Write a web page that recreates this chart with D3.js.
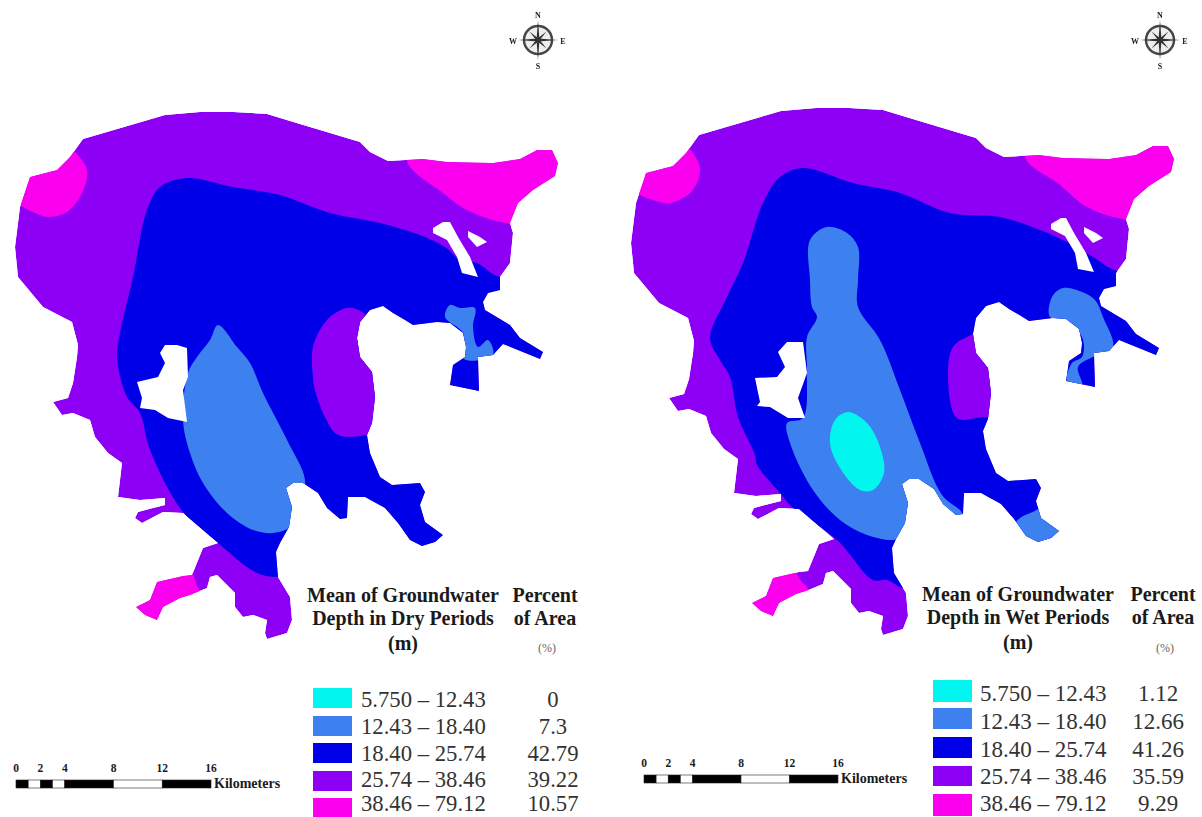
<!DOCTYPE html>
<html>
<head>
<meta charset="utf-8">
<script src="https://d3js.org/d3.v7.min.js"></script>
<style>
  html, body { margin: 0; padding: 0; background: #fff; overflow: hidden; }
  svg { display: block; }
  text { font-family: "Liberation Serif", serif; fill: #1a1a1a; }
</style>
</head>
<body>
<div id="chart"></div>
<script>
// legend data
const classLabels = ["5.750 – 12.43", "12.43 – 18.40", "18.40 – 25.74", "25.74 – 38.46", "38.46 – 79.12"];
const classColors = ["#00f6ee", "#3d80ef", "#0000e8", "#8e00f5", "#fb00ef"];
const dryPercent = ["0", "7.3", "42.79", "39.22", "10.57"];
const wetPercent = ["1.12", "12.66", "41.26", "35.59", "9.29"];
const scaleTicks = [0, 2, 4, 8, 12, 16];
const scaleBreaks = [0, 1, 2, 3, 4, 8, 12, 16];

// map geometry, digitised in map units (about 12.2 units to the km)
const studyArea = [[83,139],[165,115],[200,112],[233,112],[267,114],[300,124],[360,142],[370,152],[388,161],[423,159],[447,162],[493,163],[520,159],[537,150],[552,150],[558,163],[555,176],[533,190],[518,203],[510,223],[513,233],[510,263],[500,277],[500,290],[488,293],[483,302],[485,310],[510,325],[520,338],[543,352],[540,359],[503,344],[493,355],[478,357],[479,391],[450,385],[453,365],[465,357],[466,347],[463,333],[450,323],[437,322],[413,325],[405,320],[393,313],[383,306],[370,310],[360,322],[357,338],[360,357],[372,372],[375,397],[372,423],[367,435],[370,453],[380,477],[392,485],[420,483],[425,492],[420,505],[425,522],[443,535],[435,542],[422,546],[410,540],[398,523],[385,508],[365,497],[348,497],[347,518],[340,519],[327,508],[318,493],[303,483],[293,483],[286,488],[292,507],[289,527],[280,543],[276,552],[278,577],[290,597],[292,620],[287,633],[267,639],[265,633],[267,620],[253,615],[243,617],[235,607],[235,593],[217,575],[210,577],[207,588],[190,595],[180,598],[163,607],[157,620],[145,615],[136,607],[150,600],[157,582],[183,576],[192,575],[203,548],[218,543],[183,513],[163,512],[142,523],[135,518],[138,512],[153,508],[165,505],[165,498],[140,500],[118,497],[122,463],[108,453],[95,437],[90,420],[73,413],[62,415],[53,402],[68,398],[73,383],[77,357],[78,345],[72,322],[43,307],[18,277],[15,247],[20,207],[30,177],[57,170],[70,157]];

const dryNwHigh = [[75,152],[87,170],[82,193],[67,212],[48,217],[33,212],[18,203],[5,180],[30,150],[60,140]];
const dryNeHigh = [[407,161],[443,193],[467,210],[510,224],[580,225],[590,130],[420,130]];
const drySwHigh = [[192,573],[196,584],[200,594],[170,628],[120,628],[120,560],[170,560]];
const dryMid = [[187,178],[160,187],[147,210],[133,277],[120,333],[117,357],[127,397],[140,413],[150,450],[183,512],[218,543],[257,573],[278,577],[300,573],[620,572],[620,277],[500,277],[477,263],[460,260],[445,247],[420,235],[380,223],[330,213],[280,195],[233,187]];
const dryLens = [[347,308],[327,320],[313,347],[313,377],[315,390],[325,417],[338,435],[367,435],[385,430],[388,365],[375,330],[362,312]];
const dryShallow = [[218,325],[210,340],[197,357],[188,373],[183,420],[190,453],[203,483],[227,513],[253,530],[273,533],[290,527],[300,510],[305,480],[287,440],[263,393],[250,363],[237,347]];
const dryShallowEast = [[450,305],[445,317],[463,333],[464,359],[493,355],[488,340],[478,347],[473,327],[475,308],[460,308]];
const dryHoles = [
  [[165,345],[160,353],[165,363],[158,377],[137,382],[142,398],[140,408],[155,410],[168,418],[187,422],[183,390],[188,377],[187,348],[177,345]],
  [[443,222],[433,228],[433,233],[447,240],[457,257],[462,273],[478,277],[470,257],[458,237],[450,222]],
  [[468,231],[468,237],[477,247],[487,242],[480,237]]
];

const wetNwHigh = [[74,153],[84,173],[76,195],[54,207],[37,204],[18,195],[5,175],[30,150],[60,140]];
const wetNeHigh = [[409,161],[444,189],[471,211],[512,224],[580,225],[590,130],[420,130]];
const wetSwHigh = [[179,575],[185,585],[192,594],[170,628],[120,628],[120,560],[165,560]];
const wetMid = [[187,172],[164,181],[147,207],[127,267],[111,301],[94,342],[104,364],[114,381],[122,421],[139,459],[141,469],[164,497],[177,512],[221,544],[257,584],[271,584],[287,592],[310,590],[620,590],[620,276],[504,276],[477,261],[451,246],[424,234],[384,221],[334,217],[284,197],[237,187]];
const wetLens = [[351,341],[337,351],[332,377],[341,422],[367,421],[390,420],[390,360],[372,335]];
const wetShallow = [[211,231],[194,244],[194,284],[196,311],[201,321],[191,341],[191,377],[187,422],[171,427],[174,447],[197,494],[224,524],[251,539],[277,544],[290,540],[300,530],[345,526],[346,517],[326,499],[304,447],[284,394],[264,344],[242,311],[242,284],[242,251],[231,237]];
const wetShallowEast = [[447,292],[436,301],[434,321],[454,326],[467,344],[466,361],[456,367],[451,386],[466,389],[462,371],[481,359],[497,351],[487,321],[479,304],[466,296]];
const wetShallowTip = [[404,522],[422,513],[432,500],[470,515],[470,570],[400,570],[394,535]];
const wetCore = [[232,416],[251,427],[264,451],[268,477],[257,494],[244,494],[224,472],[214,447],[219,424]];
const wetHoles = [
  [[171,346],[162,356],[169,371],[161,381],[139,382],[144,406],[141,410],[154,411],[172,422],[189,422],[182,402],[191,377],[187,346]],
  [[445,222],[435,228],[435,233],[449,240],[459,257],[462,273],[478,276],[470,257],[458,237],[450,222]],
  [[468,231],[468,237],[477,247],[487,242],[480,237]]
];

const width = 1202, height = 817;
const svg = d3.select("#chart").append("svg")
    .attr("width", width)
    .attr("height", height);

const blur = svg.append("filter").attr("id", "soft");
blur.append("feGaussianBlur").attr("stdDeviation", 0.45);

const panels = [
  { id: "dry", dx: 0, dy: 0,
    zones: [[4, dryNwHigh], [4, dryNeHigh], [4, drySwHigh], [2, dryMid], [3, dryLens], [1, dryShallow], [1, dryShallowEast]],
    holes: dryHoles,
    title: ["Mean of Groundwater", "Depth in Dry Periods", "(m)"], percent: dryPercent,
    titleX: 403, percentX: 545, rowY: [707, 734, 761, 787, 811],
    swatchTop: [688, 716, 743, 771, 798], swatchBottom: [708, 736, 763, 791, 817],
    swatchX: 313, labelX: 361, labelSize: 22.7, valueX: 553,
    bar: [16, 211], barY: 780, compass: [538, 40] },
  { id: "wet", dx: 616, dy: -4,
    zones: [[4, wetNwHigh], [4, wetNeHigh], [4, wetSwHigh], [2, wetMid], [3, wetLens], [1, wetShallow], [1, wetShallowEast], [1, wetShallowTip], [0, wetCore]],
    holes: wetHoles,
    title: ["Mean of Groundwater", "Depth in Wet Periods", "(m)"], percent: wetPercent,
    titleX: 1018, percentX: 1163, rowY: [701, 729, 757, 784, 811],
    swatchTop: [680, 708, 737, 766, 794], swatchBottom: [702, 729, 758, 786, 816],
    swatchX: 933, labelX: 980, labelSize: 23, valueX: 1158,
    bar: [644, 838], barY: 775, compass: [1160, 40] }
];

panels.forEach(function(p) {
  let x = d3.scaleLinear().domain([0, 600]).range([p.dx, p.dx + 600]);
  let y = d3.scaleLinear().domain([0, 650]).range([p.dy, p.dy + 650]);

  // zone boundaries are contours so they get a smooth curve, the coast stays as digitised
  let smooth = d3.line()
      .x(function(d) { return x(d[0]); })
      .y(function(d) { return y(d[1]); })
      .curve(d3.curveCatmullRomClosed.alpha(0.5));
  let coast = d3.line()
      .x(function(d) { return x(d[0]); })
      .y(function(d) { return y(d[1]); })
      .curve(d3.curveLinearClosed);

  svg.append("clipPath").attr("id", "clip-" + p.id)
      .append("path").attr("d", coast(studyArea));

  let map = svg.append("g").attr("clip-path", `url(#clip-${p.id})`);

  // deep class is the base, the other classes are painted over it
  map.append("path").attr("d", coast(studyArea)).attr("fill", classColors[3]);

  map.selectAll("path.zone").data(p.zones).enter()
      .append("path")
      .attr("class", "zone")
      .attr("d", function(d) { return smooth(d[1]); })
      .attr("fill", function(d) { return classColors[d[0]]; });

  map.selectAll("path.hole").data(p.holes).enter()
      .append("path")
      .attr("class", "hole")
      .attr("d", coast)
      .attr("fill", "#fff");

  // legend title
  svg.selectAll("text.title-" + p.id).data(p.title).enter()
      .append("text")
      .attr("class", "title-" + p.id)
      .attr("x", p.titleX)
      .attr("y", function(d, i) { return [602, 625, 650][i] - (p.id == "wet" ? 1 : 0); })
      .attr("text-anchor", "middle")
      .attr("font-weight", "bold")
      .attr("font-size", 20)
      .text(function(d) { return d; });

  svg.selectAll("text.head-" + p.id).data(["Percent", "of Area"]).enter()
      .append("text")
      .attr("class", "head-" + p.id)
      .attr("x", p.percentX)
      .attr("y", function(d, i) { return [602, 625][i] - (p.id == "wet" ? 1 : 0); })
      .attr("text-anchor", "middle")
      .attr("font-weight", "bold")
      .attr("font-size", 20)
      .text(function(d) { return d; });

  svg.append("text")
      .attr("x", p.percentX + 2)
      .attr("y", 652)
      .attr("text-anchor", "middle")
      .attr("font-size", 12)
      .style("fill", "#666")
      .text("(%)");

  // legend rows
  let rows = svg.selectAll("g.row-" + p.id).data(classLabels).enter()
      .append("g")
      .attr("class", "row-" + p.id);

  rows.append("rect")
      .attr("x", p.swatchX)
      .attr("y", function(d, i) { return p.swatchTop[i]; })
      .attr("width", 39)
      .attr("height", function(d, i) { return p.swatchBottom[i] - p.swatchTop[i]; })
      .attr("fill", function(d, i) { return classColors[i]; });

  rows.append("text")
      .attr("x", p.labelX)
      .attr("y", function(d, i) { return p.rowY[i]; })
      .attr("font-size", p.labelSize)
      .style("fill", "#333")
      .text(function(d) { return d; });

  rows.append("text")
      .attr("x", p.valueX)
      .attr("y", function(d, i) { return p.rowY[i]; })
      .attr("text-anchor", "middle")
      .attr("font-size", p.labelSize)
      .style("fill", "#333")
      .text(function(d, i) { return p.percent[i]; });

  // scale bar
  let km = d3.scaleLinear().domain([0, 16]).range(p.bar);
  let segments = d3.pairs(scaleBreaks);

  svg.selectAll("rect.seg-" + p.id).data(segments).enter()
      .append("rect")
      .attr("class", "seg-" + p.id)
      .attr("x", function(d) { return km(d[0]); })
      .attr("y", p.barY)
      .attr("width", function(d) { return km(d[1]) - km(d[0]); })
      .attr("height", 8)
      .attr("fill", function(d, i) { return i % 2 == 0 ? "#000" : "#fff"; })
      .attr("stroke", "#222")
      .attr("stroke-width", 0.6);

  svg.selectAll("text.tick-" + p.id).data(scaleTicks).enter()
      .append("text")
      .attr("class", "tick-" + p.id)
      .attr("x", function(d) { return km(d); })
      .attr("y", p.barY - 8)
      .attr("text-anchor", "middle")
      .attr("font-weight", "bold")
      .attr("font-size", 11.5)
      .text(function(d) { return d; });

  svg.append("text")
      .attr("x", p.bar[1] + 3)
      .attr("y", p.barY + 8)
      .attr("font-weight", "bold")
      .attr("font-size", 14)
      .text("Kilometers");

  // compass
  let c = svg.append("g")
      .attr("transform", `translate(${p.compass[0]},${p.compass[1]})`)
      .attr("filter", "url(#soft)");
  c.append("circle").attr("r", 14).attr("fill", "#eee").attr("stroke", "#444").attr("stroke-width", 2.4);
  [0, 45, 90, 135, 180, 225, 270, 315].forEach(function(a) {
    let len = a % 90 == 0 ? 20 : 12;
    c.append("path")
        .attr("d", `M-1.5,0L0,${-len}L1.5,0Z`)
        .attr("transform", `rotate(${a})`)
        .attr("fill", "#333");
  });
  c.selectAll("text").data([["N", 0, -22], ["S", 0, 29], ["W", -25, 4], ["E", 25, 4]]).enter()
      .append("text")
      .attr("x", function(d) { return d[1]; })
      .attr("y", function(d) { return d[2]; })
      .attr("text-anchor", "middle")
      .attr("font-size", 8)
      .attr("font-weight", "bold")
      .text(function(d) { return d[0]; });
});
</script>
</body>
</html>
